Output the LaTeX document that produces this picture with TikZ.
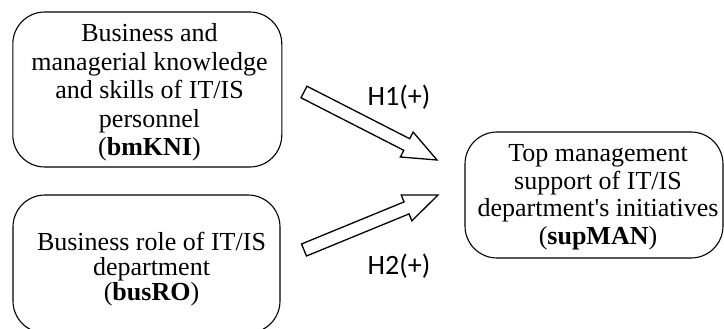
\documentclass[tikz,border=0pt]{standalone}
\usepackage{fontspec}
\setmainfont{Liberation Serif}
\newfontfamily\labelfont{Carlito}
\usetikzlibrary{calc}

% hollow block arrow from a tail coordinate #1 to a tip coordinate #2
\newcommand{\hollowarrow}[2]{%
  \draw[blockarrow]
    ($(#1)!6.5pt!90:(#2)$)
    -- ($($(#2)!34pt!(#1)$)!6.5pt!90:(#2)$)
    -- ($($(#2)!34pt!(#1)$)!14pt!90:(#2)$)
    -- (#2)
    -- ($($(#2)!34pt!(#1)$)!14pt!-90:(#2)$)
    -- ($($(#2)!34pt!(#1)$)!6.5pt!-90:(#2)$)
    -- ($(#1)!6.5pt!-90:(#2)$)
    -- cycle;}

\begin{document}
\begin{tikzpicture}[x=1pt,y=-1pt,
  box/.style={draw, line width=1.1pt, rounded corners=32pt, inner sep=0pt},
  boxtext/.style={align=center, inner sep=0pt, font=\fontsize{26}{#1}\selectfont},
  hyp/.style={inner sep=0pt, anchor=base, font=\labelfont\fontsize{28}{30}\selectfont},
  blockarrow/.style={draw, line width=1.3pt, line join=miter, fill=white}]
\useasboundingbox (0,0) rectangle (724,329);
\clip (0,0) rectangle (724,329);

% construct boxes
\node[box, minimum width=269pt, minimum height=155pt] (b1) at (147.3,89.5) {};
\node[box, minimum width=267pt, minimum height=138pt] (b2) at (146.5,264) {};
\node[box, minimum width=258pt, minimum height=126pt] (b3) at (594,195) {};

% box labels
\node[boxtext=28.5] (t1) at (149.5,92.6)
  {Business and\\managerial knowledge\\and skills of IT/IS\\personnel\\(\textbf{bmKNI})};
\node[boxtext=25] (t2) at (151.5,269.5)
  {Business role of IT/IS\\department\\(\textbf{busRO})};
\node[boxtext=27.5] (t3) at (598,197.5)
  {Top management\\support of IT/IS\\department\textquotesingle s initiatives\\(\textbf{supMAN})};

% hypothesised paths
\coordinate (h1tail) at (304,92);
\coordinate (h1tip)  at (437,160);
\coordinate (h2tail) at (304,250);
\coordinate (h2tip)  at (438,195);
\hollowarrow{h1tail}{h1tip}
\hollowarrow{h2tail}{h2tip}

\node[hyp] (l1) at (399,105.5) {H1(+)};
\node[hyp] (l2) at (399,274) {H2(+)};
\end{tikzpicture}
\end{document}
